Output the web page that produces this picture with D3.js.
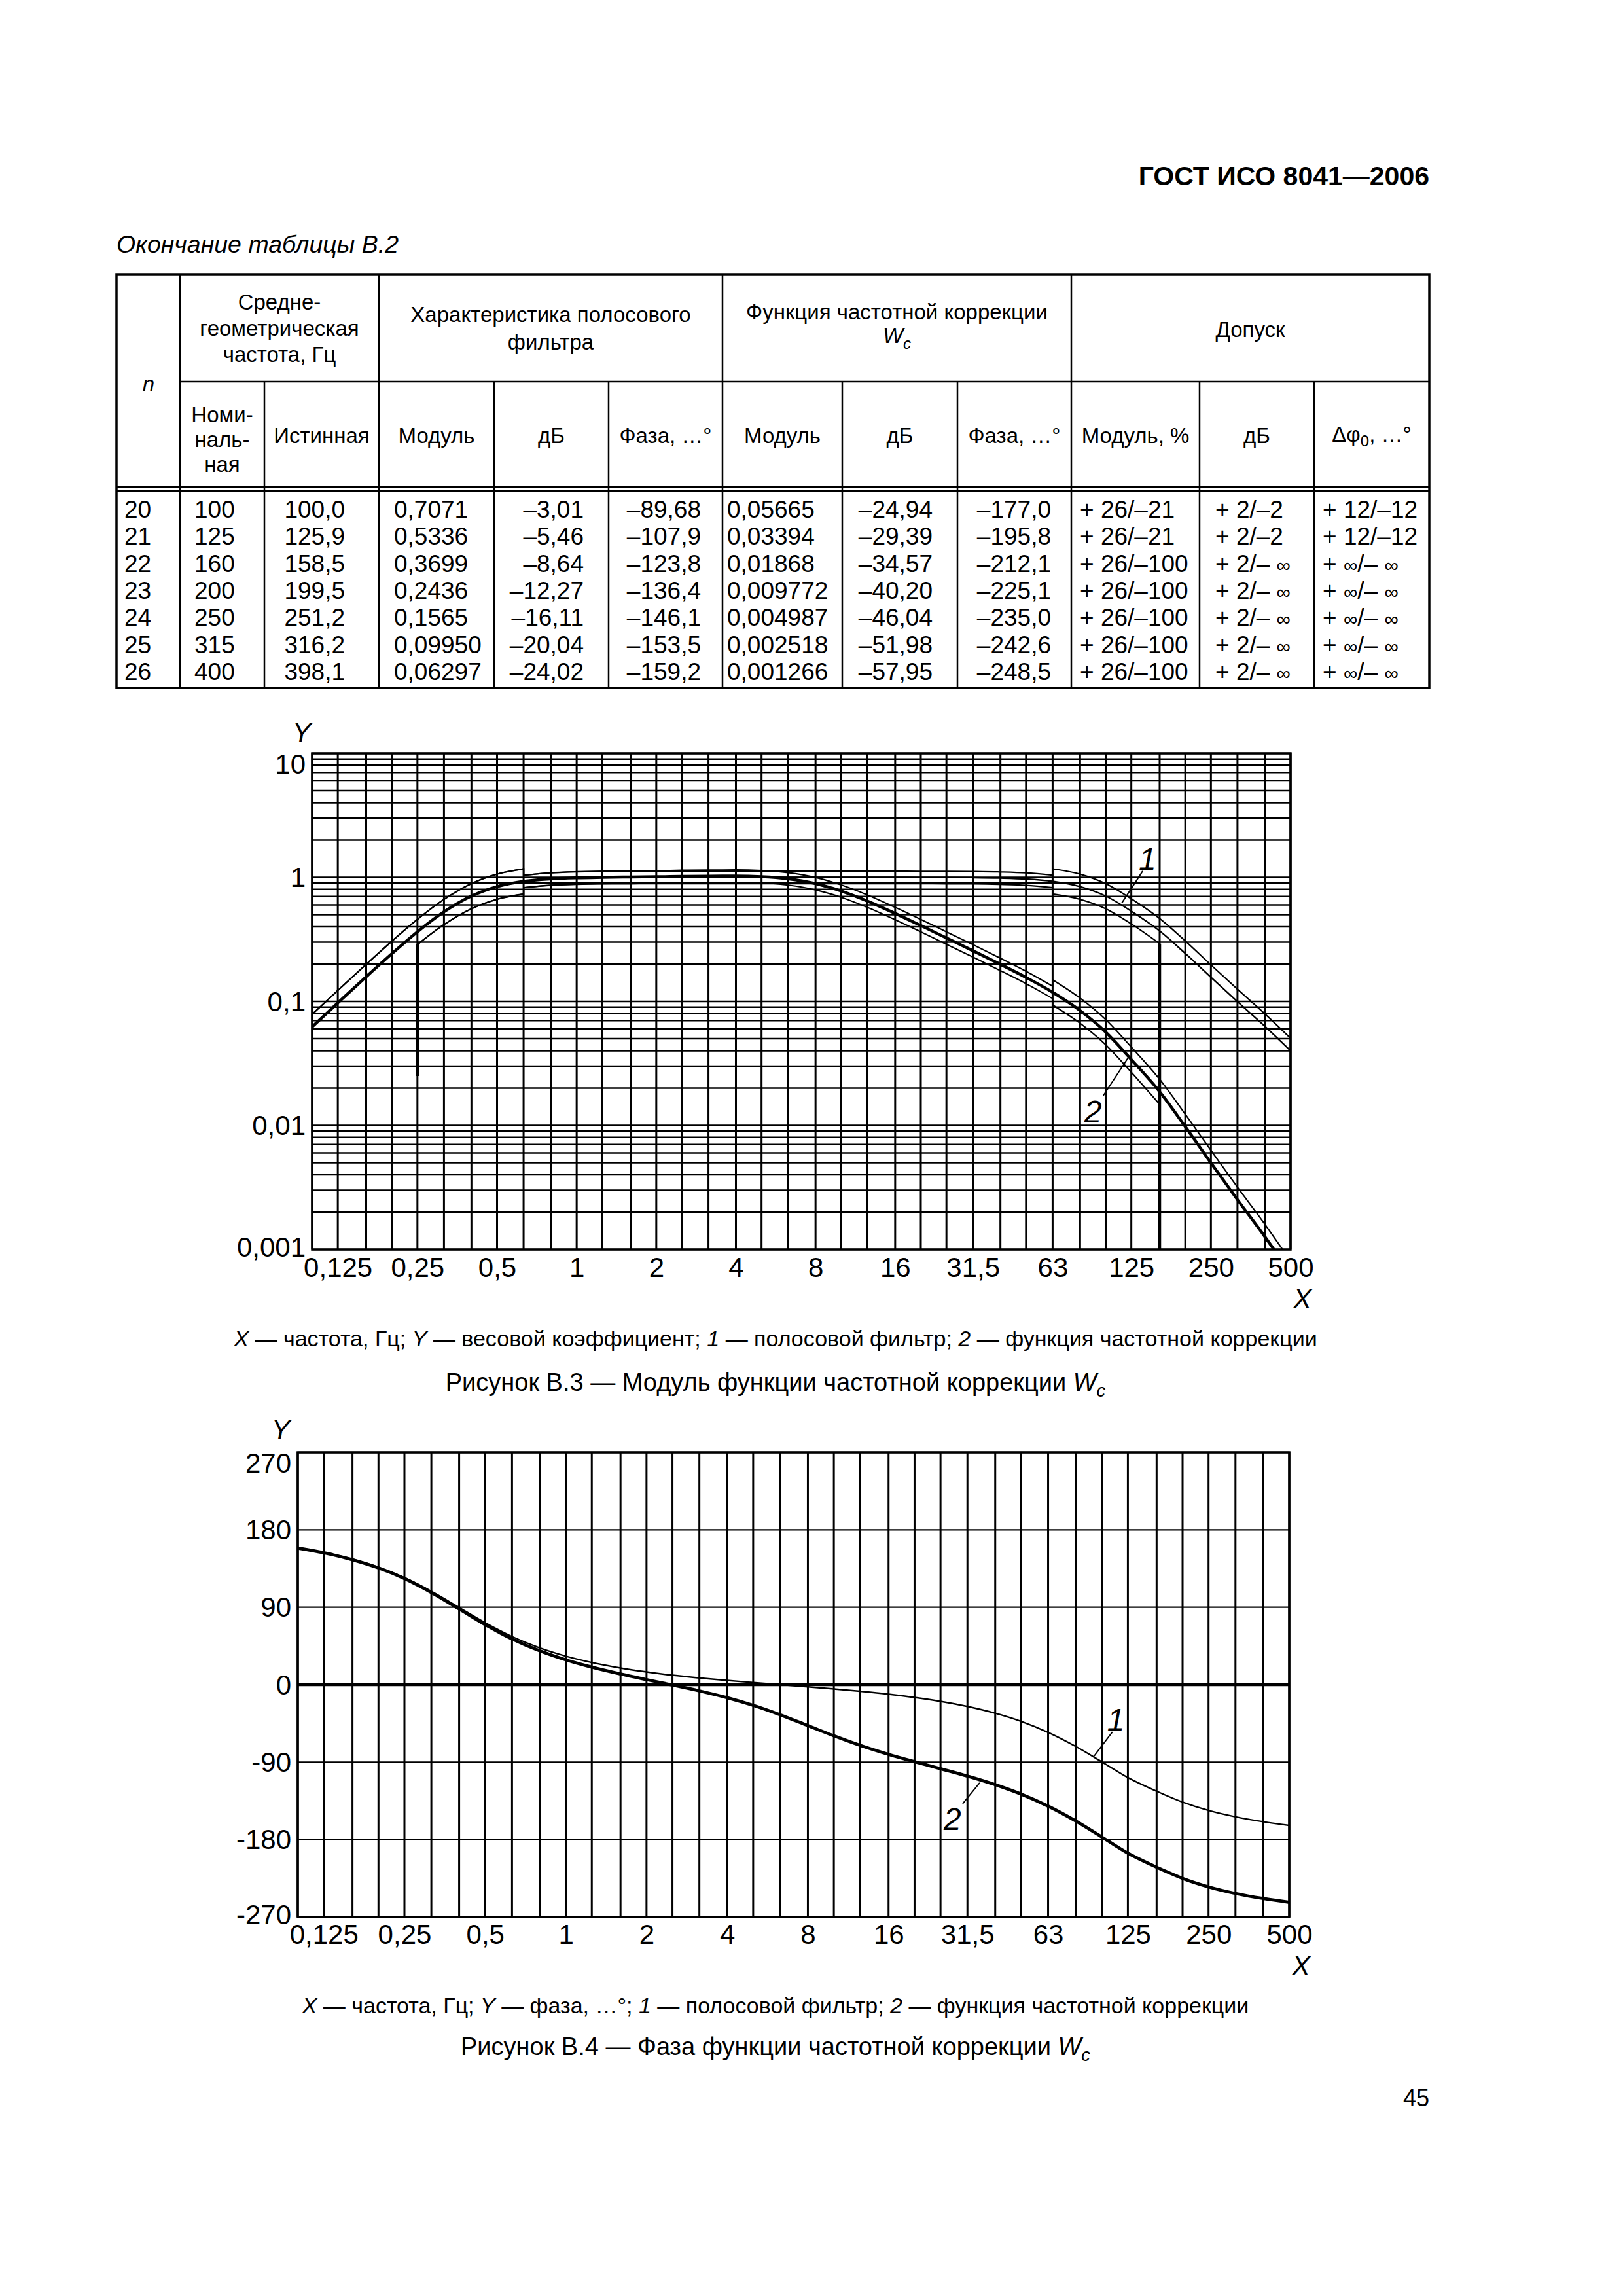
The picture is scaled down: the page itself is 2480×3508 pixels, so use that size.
<!DOCTYPE html>
<html>
<head>
<meta charset="utf-8">
<script src="https://cdn.jsdelivr.net/npm/d3@7"></script>
<style>
body { margin: 0; background: #fff; }
svg { display: block; }
</style>
</head>
<body>
<div id="vis"></div>
<script>
var width = 2480,
	height = 3508;

var FONT = "'Liberation Sans', Arial, Helvetica, sans-serif";

// third-octave frequencies, Hz
var freqs = [0.1, 0.125, 0.16, 0.2, 0.25, 0.315, 0.4, 0.5, 0.63, 0.8, 1, 1.25, 1.6, 2, 2.5, 3.15, 4, 5, 6.3, 8,
	10, 12.5, 16, 20, 25, 31.5, 40, 50, 63, 80, 100, 125, 160, 200, 250, 315, 400, 500];

var xTicks = [0.125, 0.25, 0.5, 1, 2, 4, 8, 16, 31.5, 63, 125, 250, 500];
var xTickLabels = ['0,125', '0,25', '0,5', '1', '2', '4', '8', '16', '31,5', '63', '125', '250', '500'];
var modTicks = [0.001, 0.01, 0.1, 1, 10];
var modTickLabels = ['0,001', '0,01', '0,1', '1', '10'];
var phaseTicks = [-270, -180, -90, 0, 90, 180, 270];
var phaseTickLabels = ['-270', '-180', '-90', '0', '90', '180', '270'];

// Figure B.3 - modulus; 1 - band-pass filter, 2 - weighting Wc
var bandMod = [0.0624, 0.0972, 0.158, 0.2425, 0.364, 0.527, 0.707, 0.842, 0.928, 0.970,
	0.988, 0.995, 0.998, 0.999, 1, 1, 1, 1, 1, 1,
	1, 1, 1, 0.999, 0.998, 0.995, 0.987, 0.970, 0.929, 0.842,
	0.7071, 0.5336, 0.3699, 0.2436, 0.1565, 0.0995, 0.06297, 0.040];
var corrMod = [0.0624, 0.0972, 0.158, 0.2425, 0.364, 0.527, 0.707, 0.843, 0.929, 0.972,
	0.991, 1.000, 1.007, 1.011, 1.018, 1.023, 1.024, 1.013, 0.974, 0.891,
	0.776, 0.647, 0.512, 0.409, 0.325, 0.256, 0.199, 0.156, 0.1185, 0.0844,
	0.05665, 0.03394, 0.01868, 0.009772, 0.004987, 0.002518, 0.001266, 0.00064];

// tolerance limits, each piece starts at the frequency given with it below
var bandUpperLow = [0.0786, 0.1225, 0.199, 0.3056, 0.4586, 0.664, 0.891, 1.061, 1.169];
var bandUpperMid = [1.039, 1.086, 1.107, 1.114, 1.118, 1.12, 1.12, 1.12, 1.12, 1.12, 1.12,
	1.12, 1.12, 1.12, 1.12, 1.119, 1.118, 1.114, 1.105, 1.086, 1.040];
var bandUpperHigh = [1.171, 1.061, 0.891, 0.672, 0.466, 0.307, 0.197, 0.1254, 0.0793, 0.0504];
var bandLowerLow = [0.2876, 0.4163, 0.5586, 0.665, 0.733];
var bandLowerMid = [0.826, 0.863, 0.879, 0.886, 0.888, 0.89, 0.89, 0.89, 0.89, 0.89, 0.89,
	0.89, 0.89, 0.89, 0.89, 0.889, 0.888, 0.886, 0.878, 0.863, 0.827];
var bandLowerHigh = [0.734, 0.665, 0.5586, 0.4215, 0.2922];

var corrUpperLow = [0.0786, 0.1225, 0.199, 0.3056, 0.4586, 0.664, 0.891, 1.062, 1.171];
var corrUpperMid = [1.040, 1.089, 1.110, 1.120, 1.128, 1.132, 1.140, 1.146, 1.147, 1.135, 1.091,
	0.998, 0.869, 0.725, 0.573, 0.458, 0.364, 0.287, 0.223, 0.175, 0.1327];
var corrUpperHigh = [0.1493, 0.1063, 0.0714, 0.0428, 0.02354, 0.01231, 0.006284, 0.003173, 0.001595, 0.000806];
var corrLowerLow = [0.2876, 0.4163, 0.5586, 0.666, 0.734];
var corrLowerMid = [0.827, 0.865, 0.882, 0.890, 0.896, 0.900, 0.906, 0.910, 0.911, 0.902, 0.867,
	0.793, 0.691, 0.576, 0.456, 0.364, 0.289, 0.228, 0.177, 0.139, 0.1055];
var corrLowerHigh = [0.0936, 0.0667, 0.04475, 0.02681, 0.01476];

// -100 % limits
var lowDrop = [[0.25, 0.2876], [0.25, 0.025]];
var highDrop = [[160, 0.2922], [160, 0.001]];

// Figure B.4 - phase, degrees
var bandPhase = [159.2, 153.8, 145.9, 136.5, 124.4, 108.5, 89.7, 72.0, 55.9, 42.7,
	33.2, 25.8, 19.4, 14.8, 11.0, 7.8, 4.9, 2.5, 0.1, -2.5,
	-4.9, -7.6, -11.0, -14.8, -19.4, -25.3, -33.2, -42.7, -55.4, -71.9,
	-89.68, -107.9, -123.8, -136.4, -146.1, -153.5, -159.2, -163.5];
var corrPhase = [158.8, 153.3, 145.2, 135.7, 123.4, 107.2, 88.0, 69.8, 53.2, 39.3,
	28.9, 20.4, 12.4, 5.9, -0.4, -7.2, -15.1, -24.0, -34.9, -47.5,
	-59.4, -70.4, -81.0, -89.5, -97.6, -106.2, -116.2, -127.2, -141.1, -158.5,
	-177.0, -195.8, -212.1, -225.1, -235.0, -242.6, -248.5, -252.9];

// table B.2 (end)
var tabN = ['20', '21', '22', '23', '24', '25', '26'];
var tabNominal = ['100', '125', '160', '200', '250', '315', '400'];
var tabTrue = ['100,0', '125,9', '158,5', '199,5', '251,2', '316,2', '398,1'];
var tabBandMod = ['0,7071', '0,5336', '0,3699', '0,2436', '0,1565', '0,09950', '0,06297'];
var tabBandDb = ['–3,01', '–5,46', '–8,64', '–12,27', '–16,11', '–20,04', '–24,02'];
var tabBandPhase = ['–89,68', '–107,9', '–123,8', '–136,4', '–146,1', '–153,5', '–159,2'];
var tabCorrMod = ['0,05665', '0,03394', '0,01868', '0,009772', '0,004987', '0,002518', '0,001266'];
var tabCorrDb = ['–24,94', '–29,39', '–34,57', '–40,20', '–46,04', '–51,98', '–57,95'];
var tabCorrPhase = ['–177,0', '–195,8', '–212,1', '–225,1', '–235,0', '–242,6', '–248,5'];
var tabTolMod = ['+ 26/–21', '+ 26/–21', '+ 26/–100', '+ 26/–100', '+ 26/–100', '+ 26/–100', '+ 26/–100'];
var tabTolDb = ['+ 2/–2', '+ 2/–2', '+ 2/– ∞', '+ 2/– ∞', '+ 2/– ∞', '+ 2/– ∞', '+ 2/– ∞'];
var tabTolPhase = ['+ 12/–12', '+ 12/–12', '+ ∞/– ∞', '+ ∞/– ∞', '+ ∞/– ∞', '+ ∞/– ∞', '+ ∞/– ∞'];

var svg = d3.select('#vis')
	.append('svg')
	.attr('width', width)
	.attr('height', height)
	.attr('font-family', FONT)
	.style('background', '#fff');

function text(g, x, y, s, size, anchor, style, weight) {
	return g.append('text')
		.attr('x', x)
		.attr('y', y)
		.attr('font-size', size)
		.attr('text-anchor', anchor || 'start')
		.attr('font-style', style || 'normal')
		.attr('font-weight', weight || 'normal')
		.text(s);
}

function hline(g, x1, x2, y, w) {
	g.append('line').attr('x1', x1).attr('x2', x2).attr('y1', y).attr('y2', y)
		.attr('stroke', '#000').attr('stroke-width', w);
}
function vline(g, x, y1, y2, w) {
	g.append('line').attr('x1', x).attr('x2', x).attr('y1', y1).attr('y2', y2)
		.attr('stroke', '#000').attr('stroke-width', w);
}

// ---------- page header ----------
text(svg, 2184, 283, 'ГОСТ ИСО 8041—2006', 41, 'end', 'normal', 'bold');
text(svg, 178, 386, 'Окончание таблицы В.2', 37.5, 'start', 'italic');

// ---------- table ----------
var tg = svg.append('g');
var cols = [178, 275, 404, 579, 755, 930, 1104, 1287, 1463, 1637, 1833, 2008, 2184];
var tTop = 419, tMid = 583, tHead = 744, tBot = 1051;

tg.append('rect').attr('x', cols[0]).attr('y', tTop)
	.attr('width', cols[12] - cols[0]).attr('height', tBot - tTop)
	.attr('fill', 'none').attr('stroke', '#000').attr('stroke-width', 3.5);
hline(tg, cols[1], cols[12], tMid, 2.5);
hline(tg, cols[0], cols[12], tHead, 2);
hline(tg, cols[0], cols[12], tHead + 6, 2);
[1, 3, 6, 9].forEach(function(i) { vline(tg, cols[i], tTop, tBot, 2.5); });
[2, 4, 5, 7, 8, 10, 11].forEach(function(i) { vline(tg, cols[i], tMid, tBot, 2.5); });

var HS = 33;
text(tg, 227, 598, 'n', HS, 'middle', 'italic');
['Средне-', 'геометрическая', 'частота, Гц'].forEach(function(s, i) {
	text(tg, (cols[1] + cols[3]) / 2, 473 + i * 40, s, HS, 'middle');
});
['Номи-', 'наль-', 'ная'].forEach(function(s, i) {
	text(tg, (cols[1] + cols[2]) / 2, 645 + i * 38, s, HS, 'middle');
});
text(tg, (cols[2] + cols[3]) / 2, 677, 'Истинная', HS, 'middle');
['Характеристика полосового', 'фильтра'].forEach(function(s, i) {
	text(tg, (cols[3] + cols[6]) / 2, 492 + i * 42, s, HS, 'middle');
});
text(tg, (cols[6] + cols[9]) / 2, 488, 'Функция частотной коррекции', HS, 'middle');
var wc = text(tg, (cols[6] + cols[9]) / 2, 524, '', HS, 'middle', 'italic');
wc.append('tspan').text('W');
wc.append('tspan').attr('font-size', 24).attr('dy', 9).text('c');
text(tg, (cols[9] + cols[12]) / 2, 515, 'Допуск', HS, 'middle');

var sub = ['Модуль', 'дБ', 'Фаза, …°', 'Модуль', 'дБ', 'Фаза, …°', 'Модуль, %', 'дБ'];
sub.forEach(function(s, i) {
	text(tg, (cols[i + 3] + cols[i + 4]) / 2, 677, s, HS, 'middle');
});
var dphi = text(tg, (cols[11] + cols[12]) / 2, 675, '', HS, 'middle');
dphi.append('tspan').text('Δφ');
dphi.append('tspan').attr('font-size', 24).attr('dy', 7).text('0');
dphi.append('tspan').attr('dy', -7).text(', …°');

var tabCols = [
	[tabN, 190, 'start'], [tabNominal, 297, 'start'], [tabTrue, 527, 'end'],
	[tabBandMod, 602, 'start'], [tabBandDb, 892, 'end'], [tabBandPhase, 1071, 'end'],
	[tabCorrMod, 1111, 'start'], [tabCorrDb, 1425, 'end'], [tabCorrPhase, 1606, 'end'],
	[tabTolMod, 1650, 'start'], [tabTolDb, 1857, 'start'], [tabTolPhase, 2021, 'start']
];
tabCols.forEach(function(c) {
	c[0].forEach(function(s, r) {
		var t = text(tg, c[1], 791 + r * 41.3, '', 37, c[2]);
		s.split('∞').forEach(function(part, k) {
			if (k > 0) t.append('tspan').attr('font-size', 30).text('∞');
			if (part) t.append('tspan').text(part);
		});
	});
});

// ---------- chart helpers ----------
function grid(g, x, y, xVals, yVals, box, vw, hw) {
	g.selectAll(null).data(xVals).enter().append('line')
		.attr('x1', function(d) { return x(d); }).attr('x2', function(d) { return x(d); })
		.attr('y1', box.top).attr('y2', box.bottom)
		.attr('stroke', '#000').attr('stroke-width', vw);
	g.selectAll(null).data(yVals).enter().append('line')
		.attr('x1', box.left).attr('x2', box.right)
		.attr('y1', function(d) { return y(d); }).attr('y2', function(d) { return y(d); })
		.attr('stroke', '#000').attr('stroke-width', hw);
}

function axes(g, x, y, box, yTicks, yLabels, xPad) {
	var ax = g.append('g')
		.attr('transform', 'translate(0,' + box.bottom + ')')
		.call(d3.axisBottom(x).tickValues(xTicks)
			.tickFormat(function(d, i) { return xTickLabels[i]; })
			.tickSize(0).tickPadding(xPad));
	var ay = g.append('g')
		.attr('transform', 'translate(' + box.left + ',0)')
		.call(d3.axisLeft(y).tickValues(yTicks)
			.tickFormat(function(d, i) { return yLabels[i]; })
			.tickSize(0).tickPadding(10));
	[ax, ay].forEach(function(a) {
		a.select('.domain').remove();
		a.attr('font-size', 42).attr('font-family', FONT);
		a.selectAll('text').attr('fill', '#000');
	});
	ay.selectAll('.tick text').attr('dy', function(d) {
		if (d === yTicks[yTicks.length - 1]) return '0.72em';
		if (d === yTicks[0]) return '0.26em';
		return '0.34em';
	});
}

function frame(g, box) {
	g.append('rect').attr('x', box.left).attr('y', box.top)
		.attr('width', box.right - box.left).attr('height', box.bottom - box.top)
		.attr('fill', 'none').attr('stroke', '#000').attr('stroke-width', 3.5);
}

function clip(id, box) {
	svg.append('clipPath').attr('id', id).append('rect')
		.attr('x', box.left).attr('y', box.top)
		.attr('width', box.right - box.left).attr('height', box.bottom - box.top);
}

function curve(g, x, y, vals, w) {
	var line = d3.line()
		.x(function(d, i) { return x(freqs[i]); })
		.y(function(d) { return y(d); })
		.curve(d3.curveMonotoneX);
	g.append('path').attr('d', line(vals))
		.attr('fill', 'none').attr('stroke', '#000').attr('stroke-width', w)
		.attr('stroke-linejoin', 'round');
}

function tolerance(g, x, y, pieces, w) {
	var line = d3.line()
		.x(function(d) { return x(d[0]); })
		.y(function(d) { return y(d[1]); })
		.curve(d3.curveMonotoneX);
	var d = pieces.map(function(p, k) {
		var start = freqs.indexOf(p[0]);
		var pts = p[1].map(function(v, j) { return [freqs[start + j], v]; });
		var s = line(pts);
		return k ? 'L' + s.slice(1) : s;
	}).join('');
	g.append('path').attr('d', d)
		.attr('fill', 'none').attr('stroke', '#000').attr('stroke-width', w);
}

function leader(g, x, y, f, v, dx, dy, tx, ty, s) {
	var px = x(f), py = y(v);
	g.append('line').attr('x1', px).attr('y1', py).attr('x2', px + dx).attr('y2', py + dy)
		.attr('stroke', '#000').attr('stroke-width', 2);
	text(g, px + tx, py + ty, s, 48, 'start', 'italic');
}

// ---------- Figure B.3 ----------
var box1 = {left: 477, right: 1972, top: 1151, bottom: 1909};
var x1 = d3.scaleLog().domain([0.1, 500]).range([box1.left, box1.right]);
var y1 = d3.scaleLog().domain([0.001, 10]).range([box1.bottom, box1.top]);
var g1 = svg.append('g');
clip('clip1', box1);

grid(g1, x1, y1, freqs, y1.ticks(), box1, 3, 2.5);
var c1 = g1.append('g').attr('clip-path', 'url(#clip1)');
tolerance(c1, x1, y1, [[0.1, bandUpperLow], [0.63, bandUpperMid], [63, bandUpperHigh]], 2.2);
tolerance(c1, x1, y1, [[0.25, bandLowerLow], [0.63, bandLowerMid], [63, bandLowerHigh]], 2.2);
tolerance(c1, x1, y1, [[0.1, corrUpperLow], [0.63, corrUpperMid], [63, corrUpperHigh]], 2.2);
tolerance(c1, x1, y1, [[0.25, corrLowerLow], [0.63, corrLowerMid], [63, corrLowerHigh]], 2.2);
[lowDrop, highDrop].forEach(function(seg) {
	c1.append('path')
		.attr('d', d3.line().x(function(d) { return x1(d[0]); }).y(function(d) { return y1(d[1]); })(seg))
		.attr('stroke', '#000').attr('stroke-width', 4.5);
});
curve(c1, x1, y1, bandMod, 2.4);
curve(c1, x1, y1, corrMod, 4.5);
frame(g1, box1);
axes(g1, x1, y1, box1, modTicks, modTickLabels, 12);
text(g1, 461, 1134, 'Y', 42, 'middle', 'italic');
text(g1, 1990, 1999, 'X', 42, 'middle', 'italic');
leader(g1, x1, y1, 115, 0.62, 32, -49, 26, -51, '1');
leader(g1, x1, y1, 123, 0.0365, -40, 61, -69, 102, '2');

function caption(y, parts, size) {
	var t = text(svg, 1185, y, '', size, 'middle');
	parts.forEach(function(p) {
		var s = t.append('tspan').text(p[0]);
		if (p[1]) s.attr('font-style', 'italic');
		if (p[2]) s.attr('font-size', size * 0.72).attr('dy', 9);
	});
}
caption(2057, [['X', 1], [' — частота, Гц; '], ['Y', 1], [' — весовой коэффициент; '], ['1', 1],
	[' — полосовой фильтр; '], ['2', 1], [' — функция частотной коррекции']], 34);
caption(2125, [['Рисунок В.3 — Модуль функции частотной коррекции '], ['W', 1], ['c', 1, 1]], 38);

// ---------- Figure B.4 ----------
var box2 = {left: 455, right: 1970, top: 2219, bottom: 2929};
var x2 = d3.scaleLog().domain([0.1, 500]).range([box2.left, box2.right]);
var y2 = d3.scaleLinear().domain([-270, 270]).range([box2.bottom, box2.top]);
var g2 = svg.append('g');
clip('clip2', box2);

grid(g2, x2, y2, freqs, phaseTicks, box2, 3, 2.4);
hline(g2, box2.left, box2.right, y2(0), 4.5);
var c2 = g2.append('g').attr('clip-path', 'url(#clip2)');
curve(c2, x2, y2, bandPhase, 2.4);
curve(c2, x2, y2, corrPhase, 4.8);
frame(g2, box2);
axes(g2, x2, y2, box2, phaseTicks, phaseTickLabels, 11);
text(g2, 429, 2199, 'Y', 42, 'middle', 'italic');
text(g2, 1988, 3018, 'X', 42, 'middle', 'italic');
leader(g2, x2, y2, 93.5, -83, 28, -37, 20, -39, '1');
leader(g2, x2, y2, 35, -114, -26, 32, -55, 72, '2');

caption(3076, [['X', 1], [' — частота, Гц; '], ['Y', 1], [' — фаза, …°; '], ['1', 1],
	[' — полосовой фильтр; '], ['2', 1], [' — функция частотной коррекции']], 34);
caption(3140, [['Рисунок В.4 — Фаза функции частотной коррекции '], ['W', 1], ['c', 1, 1]], 38);

text(svg, 2184, 3218, '45', 36, 'end');
</script>
</body>
</html>
